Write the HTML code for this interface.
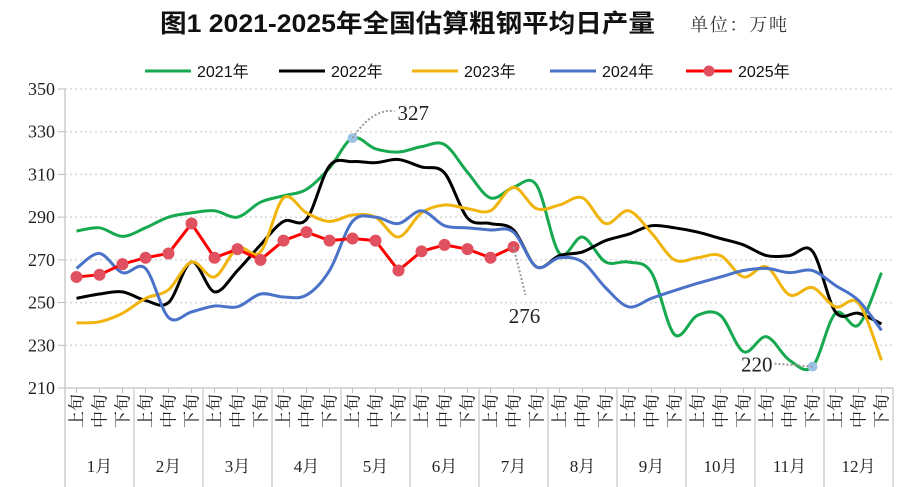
<!DOCTYPE html>
<html><head><meta charset="utf-8"><style>
body{margin:0;background:#fff}
svg{display:block}
</style></head><body>
<svg width="911" height="487" viewBox="0 0 911 487" xmlns="http://www.w3.org/2000/svg">
<text x="160" y="32" textLength="495" lengthAdjust="spacingAndGlyphs" font-family="'Liberation Sans','Noto Sans CJK SC',sans-serif" font-size="25" font-weight="bold" fill="#111">图1  2021-2025年全国估算粗钢平均日产量</text>
<text x="690" y="31" textLength="97" font-family="'Liberation Serif','Noto Serif CJK SC',serif" font-size="18" fill="#333">单位：万吨</text>
<g id="legend"></g>
<g id="grid"></g>
<g id="axes"></g>
<g id="series"></g>
<g id="annot"></g>
</svg>
<script>
const NS='http://www.w3.org/2000/svg';
const yTicks=[210,230,250,270,290,310,330,350];
const dekads=['上旬','中旬','下旬'];
const months=['1月','2月','3月','4月','5月','6月','7月','8月','9月','10月','11月','12月'];
const s2021=[283.5,285,281,285,290,292,293,290,297,300,303,313,327,322,320.5,323,324,311,299,304,305,273,280.7,269,269,264,235,244,244,227,234,223,220,245,239.5,264];
const s2022=[252,254,255,251,250,269,255,265,277,288,289,314,316,315.5,317,313.5,310.7,289.6,287,284,266.7,272,273.7,279,282,286,285,283,280,277,272,272,274,245.6,245,240];
const s2023=[240.5,241,245,252,256,269,262,275.5,273.7,299,292,288,291,290,280.7,292,295.7,294,293,304,294,295.7,299,287,293,282.6,270,271,272,262,266.7,253.6,257,248,249.8,223];
const s2024=[266,273,264,266,243,245.6,248.4,248,254,252.6,253.5,265,288,290,287,293,286,285,284,283,266.7,271,269,257,248,252,255.6,259,262,265,266,264,265,258,251,237];
const s2025=[262,263,268,271,273,287,271,275,270,279,283,279,280,279,265,274,277,275,271,276];
const seriesNames=['2021年','2022年','2023年','2024年','2025年'];
const seriesData=[s2021,s2022,s2023,s2024,s2025];
const colors=['#17a94f','#000000','#f0b40c','#4a72c8','#ff0000'];
const X0=65,X1=893,Y0=388,Y1=89,VMIN=210,VMAX=350;
const step=(X1-X0)/36;
const xs=i=>X0+step*(i+0.5);
const ys=v=>Y0-(v-VMIN)/(VMAX-VMIN)*(Y0-Y1);
function mk(tag,attrs,parent){const e=document.createElementNS(NS,tag);for(const k in attrs)e.setAttribute(k,attrs[k]);parent.appendChild(e);return e;}
const grid=document.getElementById('grid'),axes=document.getElementById('axes'),ser=document.getElementById('series'),leg=document.getElementById('legend'),ann=document.getElementById('annot');
const serif="'Liberation Serif','Noto Serif CJK SC',serif";
yTicks.forEach(t=>{
  if(t>VMIN){const l=mk('line',{x1:X0,x2:X1,y1:ys(t),y2:ys(t),stroke:'#d6d6d6','stroke-width':1.5,'stroke-dasharray':'2 3'},grid);
  
  }
  const tx=mk('text',{x:55,y:ys(t)+6,'text-anchor':'end','font-family':serif,'font-size':18,fill:'#222'},axes);tx.textContent=t;
  
  
  mk('line',{x1:58,x2:X0,y1:ys(t),y2:ys(t),stroke:'#bbb'},axes);
});
mk('line',{x1:X0,x2:X0,y1:Y1,y2:487,stroke:'#ccc','stroke-width':1.5},axes);
mk('line',{x1:X0,x2:X1,y1:Y0,y2:Y0,stroke:'#ccc','stroke-width':1.5},axes);
for(let m=0;m<12;m++){
  const xe=X0+step*3*(m+1);
  mk('line',{x1:xe,x2:xe,y1:Y0,y2:487,stroke:'#d0d0d0','stroke-width':1.5},axes);
  const mt=mk('text',{x:X0+step*3*(m+0.5),y:472,'text-anchor':'middle','font-family':serif,'font-size':17,fill:'#222'},axes);mt.textContent=months[m];
  
  
  for(let d=0;d<3;d++){
    const i=m*3+d,x=xs(i);
    mk('line',{x1:x,x2:x,y1:Y0,y2:Y0+5,stroke:'#bbb'},axes);
    const dt=mk('text',{x:0,y:0,transform:`translate(${x+6},${394}) rotate(-90)`,'text-anchor':'end','font-family':serif,'font-size':17,fill:'#222'},axes);
    dt.textContent=dekads[d];
    
    
  }
}
function smooth(pts){
  let d=`M${pts[0][0]},${pts[0][1]}`;
  for(let i=0;i<pts.length-1;i++){
    const p0=pts[i-1]||pts[i],p1=pts[i],p2=pts[i+1],p3=pts[i+2]||p2;
    const c1=[p1[0]+(p2[0]-p0[0])/6,p1[1]+(p2[1]-p0[1])/6];
    const c2=[p2[0]-(p3[0]-p1[0])/6,p2[1]-(p3[1]-p1[1])/6];
    d+=` C${c1[0]},${c1[1]} ${c2[0]},${c2[1]} ${p2[0]},${p2[1]}`;
  }
  return d;
}
seriesData.forEach((arr,k)=>{
  const pts=arr.map((v,i)=>[xs(i),ys(v)]);
  const isLast=k===4;
  const d=isLast?'M'+pts.map(p=>p.join(',')).join(' L'):smooth(pts);
  const p=mk('path',{d,fill:'none',stroke:colors[k],'stroke-width':3,'stroke-linejoin':'round'},ser);
  
  
  if(isLast)pts.forEach(pt=>{const c=mk('circle',{cx:pt[0],cy:pt[1],r:6,fill:'#e0505f'},ser);
    
    });
  const lx=[145,279,412,550,686][k];
  mk('line',{x1:lx,x2:lx+46,y1:71,y2:71,stroke:colors[k],'stroke-width':3},leg);
  if(isLast)mk('circle',{cx:lx+23,cy:71,r:5.5,fill:'#e0505f'},leg);
  const lt=mk('text',{x:lx+52,y:77,'font-family':"'Liberation Sans','Noto Sans CJK SC',sans-serif",'font-size':16,fill:'#111'},leg);
  lt.textContent=seriesNames[k];
  
  
});
const iMax=12,iMin=32,iLast=19;
mk('circle',{cx:xs(iMax),cy:ys(s2021[iMax]),r:5,fill:'#9cc3e6'},ann);
mk('circle',{cx:xs(iMin),cy:ys(s2021[iMin]),r:5,fill:'#9cc3e6'},ann);
mk('path',{d:`M${xs(iMax)},${ys(s2021[iMax])} Q${xs(iMax)+20},${ys(s2021[iMax])-30} ${xs(iMax)+42},${ys(s2021[iMax])-27}`,fill:'none',stroke:'#999','stroke-width':2,'stroke-dasharray':'2 2'},ann);
mk('path',{d:`M${xs(iLast)},${ys(s2025[iLast])} L${xs(iLast)+12},${ys(s2025[iLast])+48}`,fill:'none',stroke:'#999','stroke-width':2,'stroke-dasharray':'2 2'},ann);
mk('path',{d:`M${xs(iMin)-38},${ys(s2021[iMin])-3} L${xs(iMin)},${ys(s2021[iMin])}`,fill:'none',stroke:'#999','stroke-width':2,'stroke-dasharray':'2 2'},ann);
[[xs(iMax)+45,ys(s2021[iMax])-18,s2021[iMax],'start'],[xs(iLast)+11,ys(s2025[iLast])+76,s2025[iLast],'middle'],[xs(iMin)-40,ys(s2021[iMin])+5,s2021[iMin],'end']].forEach(a=>{
  const t=mk('text',{x:a[0],y:a[1],'text-anchor':a[3],'font-family':serif,'font-size':21,fill:'#222'},ann);
  t.textContent=a[2];
  
  
});
</script>
</body></html>
